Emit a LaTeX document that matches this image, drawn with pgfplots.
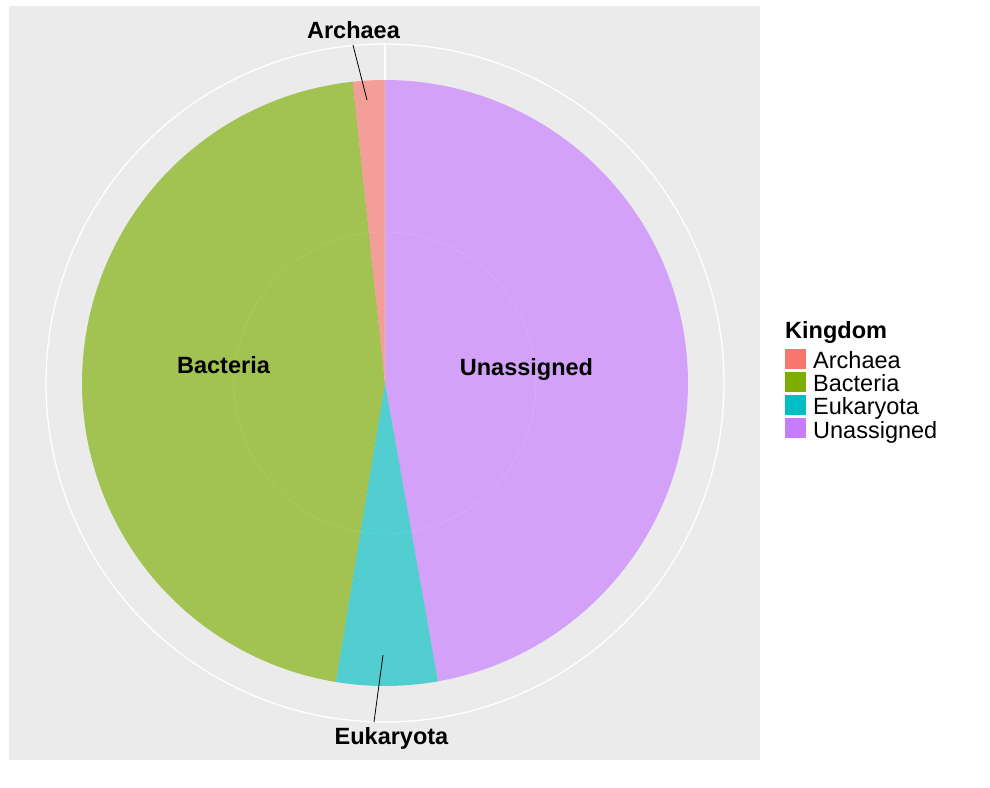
\documentclass[border=0pt]{standalone}
\usepackage{fontspec}
\setmainfont{Liberation Sans}
\usepackage{pgfplots}
\usepackage{pgfplotstable}
\pgfplotsset{compat=1.18}

\definecolor{panel}{HTML}{EBEBEB}
\definecolor{cA}{HTML}{F8766D}
\definecolor{cB}{HTML}{7CAE00}
\definecolor{cE}{HTML}{00BFC4}
\definecolor{cU}{HTML}{C77CFF}

% shares in percent, clockwise from 12 o'clock
\pgfplotstableread{
name pct
Unassigned 47.2
Eukaryota 5.4
Bacteria 45.7
Archaea 1.7
}\kingdom

\begin{document}%
\pgfplotstablegetelem{0}{pct}\of\kingdom\pgfmathsetmacro\angA{3.6*\pgfplotsretval}%
\pgfplotstablegetelem{1}{pct}\of\kingdom\pgfmathsetmacro\angB{\angA+3.6*\pgfplotsretval}%
\pgfplotstablegetelem{2}{pct}\of\kingdom\pgfmathsetmacro\angC{\angB+3.6*\pgfplotsretval}%
\pgfplotstablegetelem{3}{pct}\of\kingdom\pgfmathsetmacro\angD{\angC+3.6*\pgfplotsretval}%
\begin{tikzpicture}
\begin{axis}[x=1pt, y=1pt, y dir=reverse,
  xmin=0, xmax=990, ymin=0, ymax=787,
  hide axis, clip=false]
\path (axis cs:0,0) rectangle (axis cs:990,787);
% panel and polar grid
\fill[panel] (axis cs:9,6) rectangle (axis cs:760,760);
\draw[white, line width=1.3pt] (axis cs:385,383) circle[radius=339pt];
\draw[white, line width=0.8pt] (axis cs:385,383) circle[radius=151pt];
\draw[white, line width=1.3pt] (axis cs:385,383) -- (axis cs:385,44);

% slices
\addplot[draw=none, fill=cU, fill opacity=0.65, domain=0:\angA, samples=150, variable=\t]
  ({385+303*sin(\t)}, {383-303*cos(\t)}) -- (axis cs:385,383) -- cycle;
\addplot[draw=none, fill=cE, fill opacity=0.65, domain=\angA:\angB, samples=30, variable=\t]
  ({385+303*sin(\t)}, {383-303*cos(\t)}) -- (axis cs:385,383) -- cycle;
\addplot[draw=none, fill=cB, fill opacity=0.65, domain=\angB:\angC, samples=150, variable=\t]
  ({385+303*sin(\t)}, {383-303*cos(\t)}) -- (axis cs:385,383) -- cycle;
\addplot[draw=none, fill=cA, fill opacity=0.65, domain=\angC:\angD, samples=20, variable=\t]
  ({385+303*sin(\t)}, {383-303*cos(\t)}) -- (axis cs:385,383) -- cycle;

% labels
\draw[black, line width=0.8pt] (axis cs:353,45) -- (axis cs:367,100);
\draw[black, line width=0.8pt] (axis cs:383,655) -- (axis cs:374,722);
\begin{scope}[every node/.style={font=\fontsize{23.5}{28}\selectfont\bfseries, anchor=base, inner sep=0pt}]
\node at (axis cs:353.5,38) {Archaea};
\node at (axis cs:391.5,744) {Eukaryota};
\node at (axis cs:223.5,373) {Bacteria};
\node at (axis cs:526.5,375) {Unassigned};
\end{scope}

% legend
\node[font=\fontsize{23.5}{28}\selectfont\bfseries, anchor=base west, inner sep=0pt] at (axis cs:785,338) {Kingdom};
\fill[cA] (axis cs:785,349) rectangle (axis cs:806,369);
\fill[cB] (axis cs:785,372) rectangle (axis cs:806,392);
\fill[cE] (axis cs:785,395) rectangle (axis cs:806,415);
\fill[cU] (axis cs:785,418) rectangle (axis cs:806,438);
\begin{scope}[every node/.style={font=\fontsize{23.5}{28}\selectfont, anchor=base west, inner sep=0pt}]
\node at (axis cs:813,368) {Archaea};
\node at (axis cs:813,391) {Bacteria};
\node at (axis cs:813,414) {Eukaryota};
\node at (axis cs:813,438) {Unassigned};
\end{scope}
\end{axis}
\end{tikzpicture}%
\end{document}
